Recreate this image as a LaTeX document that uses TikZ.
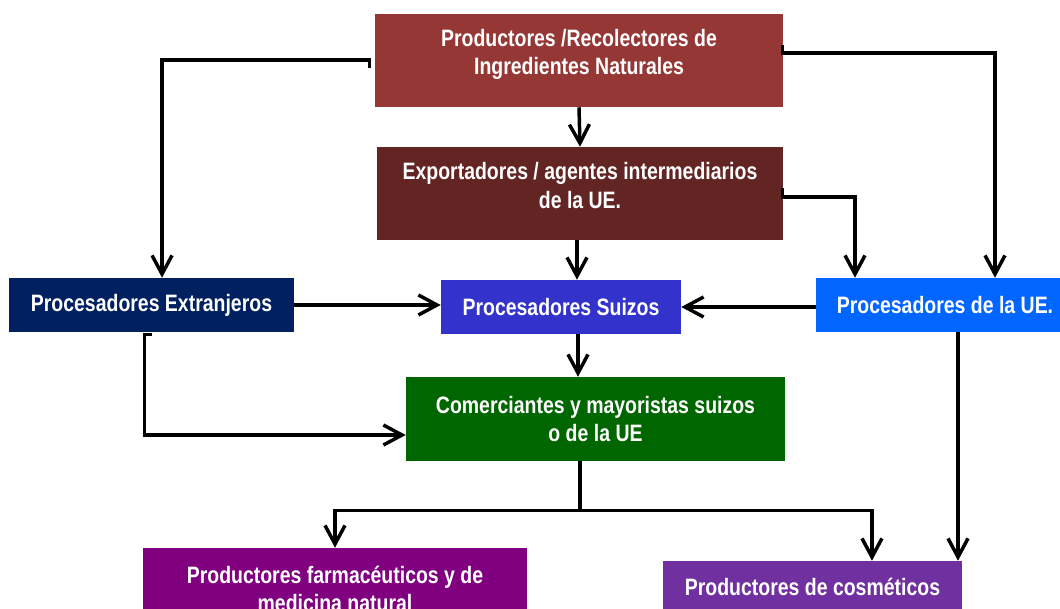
\documentclass[tikz,border=0pt]{standalone}
\usepackage{fontspec}
\setmainfont{Liberation Sans}[FakeStretch=0.82]
\usepackage{tikz}
\usetikzlibrary{arrows.meta}
\definecolor{prodred}{RGB}{149,55,53}
\definecolor{expored}{RGB}{99,37,35}
\definecolor{forenavy}{RGB}{0,32,96}
\definecolor{swissblue}{RGB}{51,51,204}
\definecolor{eublue}{RGB}{0,102,255}
\definecolor{tradegreen}{RGB}{0,102,0}
\definecolor{pharmapurple}{RGB}{128,0,128}
\definecolor{cosmviolet}{RGB}{112,48,160}
\tikzstyle{box}=[rectangle, inner sep=0pt, draw=none, text=white, align=center, font=\fontsize{17.8}{21.5}\selectfont\bfseries]
\tikzstyle{txt}=[inner sep=0pt, text=white, align=center, font=\fontsize{17.8}{21.5}\selectfont\bfseries]
\tikzstyle{edge}=[line width=2.6pt, -{Straight Barb[length=14pt, width=15pt]}]

\begin{document}
\begin{tikzpicture}[x=0.75pt, y=-0.75pt]
	\useasboundingbox (0,0) rectangle (1060,609);
	\draw (579,60.5) node[box, fill=prodred, minimum width=306pt, minimum height=69.75pt] (prod) {};
	\draw (579,54.5) node[txt] (prodtxt) {Productores /Recolectores de\\Ingredientes Naturales};
	\draw (580,193.5) node[box, fill=expored, minimum width=304.5pt, minimum height=69.75pt] (expo) {};
	\draw (580,185.5) node[txt] (expotxt) {Exportadores / agentes intermediarios\\de la UE.};
	\draw (151.5,305) node[box, fill=forenavy, minimum width=213.75pt, minimum height=40.5pt] (fore) {Procesadores Extranjeros};
	\draw (561,307) node[box, fill=swissblue, minimum width=180pt, minimum height=40.5pt] (swiss) {Procesadores Suizos};
	\draw (945,305) node[box, fill=eublue, minimum width=193.5pt, minimum height=40.5pt] (eu) {Procesadores de la UE.};
	\draw (595.5,419) node[box, fill=tradegreen, minimum width=284.25pt, minimum height=63pt] (trade) {Comerciantes y mayoristas suizos\\o de la UE};
	\draw (335,589) node[box, fill=pharmapurple, minimum width=288pt, minimum height=61.5pt] (pharma) {Productores farmacéuticos y de\\medicina natural};
	\draw (812.5,587) node[box, fill=cosmviolet, minimum width=224.25pt, minimum height=39pt] (cosm) {Productores de cosméticos};
	\coordinate (split) at ([yshift=-36.75pt]trade.south);
	\draw[edge] (prod.south) -- (expo.north);
	\draw[edge] ([shift={(-5,7.5)}]prod.west) -- ++(0,-8) -| ([xshift=7.9pt]fore.north);
	\draw[edge] ([shift={(-1,-15.5)}]prod.east) -- ++(0,8) -| ([xshift=37.5pt]eu.north);
	\draw[edge] ([xshift=-2.25pt]expo.south) -- ([xshift=-2.25pt]expo.south |- swiss.north);
	\draw[edge] ([shift={(-1,-5.5)}]expo.east) -- ++(0,9) -| ([xshift=-67.5pt]eu.north);
	\draw[edge] (fore.east) -- (fore.east -| swiss.west);
	\draw[edge] (swiss.east -| eu.west) -- (swiss.east);
	\draw[edge] ([xshift=12.75pt]swiss.south) -- ([xshift=12.75pt]swiss.south |- trade.north);
	\draw[edge] ([yshift=-1.5pt]fore.south) -- ++(-7,0) |- ([yshift=-12pt]trade.west);
	\draw[line width=2.6pt] ([xshift=-11.6pt]trade.south) -- ([xshift=-11.6pt]split);
	\draw[edge] ([xshift=-11.6pt]split) -| (pharma.north);
	\draw[edge] ([xshift=-11.6pt]split) -| ([xshift=44.6pt]cosm.north);
	\draw[edge] ([xshift=9.75pt]eu.south) -- ([xshift=9.75pt]eu.south |- cosm.north);
\end{tikzpicture}
\end{document}
